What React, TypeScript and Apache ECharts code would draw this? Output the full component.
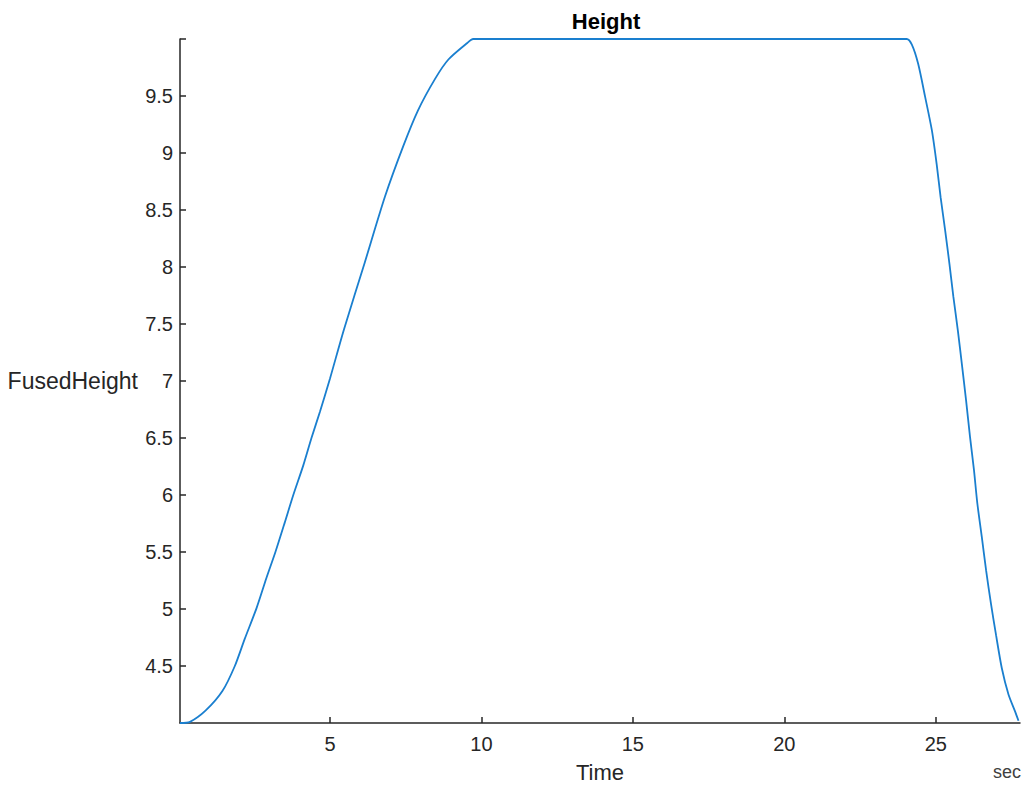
import React, { useEffect, useRef } from "react";
import * as echarts from "echarts";

const timeSec: number[] = [
  0.05, 0.38, 0.9, 1.45, 1.86, 2.19, 2.58, 2.9, 3.2, 3.51, 3.79, 4.12, 4.39, 4.67, 5.0,
  5.46, 6.15, 6.82, 7.42, 7.9, 8.47, 8.91, 9.51, 9.73,
  24.04, 24.21, 24.42, 24.65, 24.87, 25.03, 25.16, 25.31, 25.45, 25.58, 25.73, 25.86,
  26.0, 26.13, 26.26, 26.37, 26.52, 26.66, 26.82, 26.99, 27.18, 27.4, 27.62, 27.73,
];
const fusedHeight: number[] = [
  4.0, 4.01, 4.11, 4.28, 4.5, 4.74, 5.01, 5.27, 5.5, 5.76, 6.0, 6.26, 6.5, 6.73, 7.02,
  7.45, 8.04, 8.62, 9.06, 9.37, 9.65, 9.82, 9.96, 10.0,
  10.0, 9.95, 9.78, 9.49, 9.2, 8.9, 8.61, 8.32, 8.03, 7.74, 7.44, 7.15,
  6.83, 6.51, 6.22, 5.93, 5.63, 5.34, 5.05, 4.77, 4.48, 4.25, 4.1, 4.02,
];
const xTickValues: number[] = [5, 10, 15, 20, 25];
const yTickValues: number[] = [4.5, 5, 5.5, 6, 6.5, 7, 7.5, 8, 8.5, 9, 9.5, 10];
const yLabelValues: number[] = [4.5, 5, 5.5, 6, 6.5, 7, 7.5, 8, 8.5, 9, 9.5];

const FONT = "'Liberation Sans', Arial, Helvetica, sans-serif";
const AXIS = "#262626";

export default function App() {
  const ref = useRef<HTMLDivElement>(null);
  useEffect(() => {
    if (!ref.current) return;
    const chart = echarts.init(ref.current, undefined, { renderer: "svg" });
    const data = timeSec.map((t, i) => [t, fusedHeight[i]]);
    chart.setOption({
      animation: false,
      backgroundColor: "#ffffff",
      textStyle: { fontFamily: FONT },
      title: {
        text: "Height",
        left: 601,
        top: 5,
        textAlign: "center",
        textStyle: { fontFamily: FONT, fontSize: 22, fontWeight: "bold", color: "#000000" },
      },
      grid: { left: 180, right: 8, top: 39, bottom: 68, containLabel: false },
      xAxis: {
        type: "value",
        min: 0.05,
        max: 27.78,
        name: "Time",
        nameLocation: "middle",
        nameGap: 38,
        nameTextStyle: { fontFamily: FONT, fontSize: 22, color: AXIS },
        axisLine: { show: true, lineStyle: { color: AXIS, width: 1.5 } },
        axisTick: { show: true, inside: true, length: 6, customValues: xTickValues, lineStyle: { color: AXIS, width: 1.5 } },
        axisLabel: { customValues: xTickValues, fontFamily: FONT, fontSize: 20, color: AXIS, margin: 11 },
        splitLine: { show: false },
      },
      yAxis: {
        type: "value",
        min: 4,
        max: 10,
        name: "FusedHeight",
        nameLocation: "middle",
        nameRotate: 0,
        nameGap: 42,
        nameTextStyle: { fontFamily: FONT, fontSize: 23, color: AXIS, align: "right", verticalAlign: "middle" },
        axisLine: { show: true, lineStyle: { color: AXIS, width: 1.5 } },
        axisTick: { show: true, inside: true, length: 6, customValues: yTickValues, lineStyle: { color: AXIS, width: 1.5 } },
        axisLabel: { customValues: yLabelValues, fontFamily: FONT, fontSize: 20, color: AXIS, margin: 7 },
        splitLine: { show: false },
      },
      graphic: [
        {
          type: "text",
          right: 7,
          top: 763,
          style: { text: "sec", fontFamily: FONT, fontSize: 18, fill: "#404040" },
        },
      ],
      series: [
        {
          type: "line",
          data,
          showSymbol: false,
          smooth: 0.25,
          clip: true,
          lineStyle: { color: "#1a7fcf", width: 1.8 },
          itemStyle: { color: "#1a7fcf" },
        },
      ],
    });
    return () => chart.dispose();
  }, []);
  return (
    <div
      ref={ref}
      style={{ position: "absolute", left: 0, top: 0, width: 1028, height: 791, background: "#fff" }}
    />
  );
}
